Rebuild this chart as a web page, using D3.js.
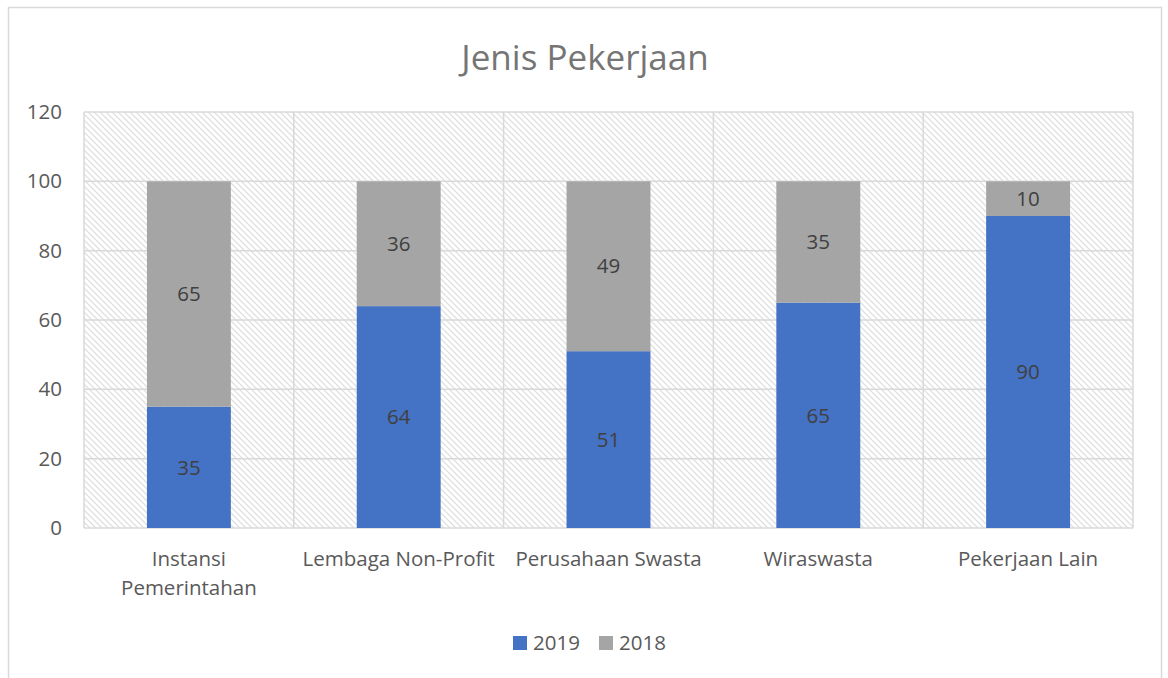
<!DOCTYPE html>
<html>
<head>
<meta charset="utf-8">
<script src="https://cdn.jsdelivr.net/npm/d3@7"></script>
<style>
  html, body { margin: 0; padding: 0; background: #fff; }
  svg { display: block; font-family: "Open Sans", sans-serif; }
</style>
</head>
<body>
<svg id="chart" width="1168" height="678"></svg>
<script>
const categories = [
  ['Instansi', 'Pemerintahan'],
  ['Lembaga Non-Profit'],
  ['Perusahaan Swasta'],
  ['Wiraswasta'],
  ['Pekerjaan Lain']
];
const values2019 = [35, 64, 51, 65, 90];
const values2018 = [65, 36, 49, 35, 10];
const seriesNames = ['2019', '2018'];
const yTicks = [0, 20, 40, 60, 80, 100, 120];

const colors = { '2019': '#4472c4', '2018': '#a5a5a5' };
const fontSize = 20.5;

const svg = d3.select('#chart');
const margin = { left: 84, top: 112, right: 1133, bottom: 528 };

// chart frame
svg.append('rect')
  .attr('x', 8.5).attr('y', 7.5)
  .attr('width', 1153).attr('height', 700)
  .attr('fill', 'none')
  .attr('stroke', '#d9d9d9')
  .attr('stroke-width', 1.5);

// hatch pattern for plot area
const defs = svg.append('defs');
const pattern = defs.append('pattern')
  .attr('id', 'hatch')
  .attr('patternUnits', 'userSpaceOnUse')
  .attr('width', 6).attr('height', 6);
pattern.append('path')
  .attr('d', 'M-1,-1 L7,7 M-7,-1 L1,7 M5,-1 L13,7')
  .attr('stroke', '#e0e0e0')
  .attr('stroke-width', 1.3);

const keys = categories.map((c, i) => i);
const x = d3.scaleBand()
  .domain(keys)
  .range([margin.left, margin.right])
  .paddingInner(0)
  .paddingOuter(0);

const y = d3.scaleLinear()
  .domain([0, 120])
  .range([margin.bottom, margin.top]);

svg.append('rect')
  .attr('x', margin.left).attr('y', margin.top)
  .attr('width', margin.right - margin.left)
  .attr('height', margin.bottom - margin.top)
  .attr('fill', 'url(#hatch)');

// horizontal gridlines
svg.append('g')
  .selectAll('line')
  .data(yTicks)
  .join('line')
  .attr('x1', margin.left).attr('x2', margin.right)
  .attr('y1', d => y(d)).attr('y2', d => y(d))
  .attr('stroke', '#d9d9d9')
  .attr('stroke-width', 1.5);

// vertical category separators
const bounds = keys.map(k => x(k)).concat([margin.right]);
svg.append('g')
  .selectAll('line')
  .data(bounds)
  .join('line')
  .attr('x1', d => d).attr('x2', d => d)
  .attr('y1', margin.top).attr('y2', margin.bottom)
  .attr('stroke', '#d9d9d9')
  .attr('stroke-width', 1.5);

// y axis labels
const yAxis = d3.axisLeft(y).tickValues(yTicks).tickSize(0).tickPadding(0);
const yg = svg.append('g')
  .attr('transform', `translate(${margin.left - 22},0)`)
  .call(yAxis);
yg.select('.domain').remove();
yg.selectAll('text')
  .attr('font-size', fontSize)
  .attr('fill', '#595959')
  .attr('font-family', '"Open Sans", sans-serif');

// stacked bars
const rows = keys.map(i => ({ i, '2019': values2019[i], '2018': values2018[i] }));
const stack = d3.stack().keys(seriesNames)(rows);
const barW = x.bandwidth() * 0.4;

const layers = svg.append('g')
  .selectAll('g')
  .data(stack)
  .join('g')
  .attr('fill', d => colors[d.key]);

layers.selectAll('rect')
  .data(d => d)
  .join('rect')
  .attr('x', d => x(d.data.i) + (x.bandwidth() - barW) / 2)
  .attr('width', barW)
  .attr('y', d => y(d[1]))
  .attr('height', d => y(d[0]) - y(d[1]));

layers.selectAll('text')
  .data(d => d.map(v => ({ v, key: d.key })))
  .join('text')
  .attr('x', d => x(d.v.data.i) + x.bandwidth() / 2)
  .attr('y', d => (y(d.v[0]) + y(d.v[1])) / 2)
  .attr('dy', '0.35em')
  .attr('text-anchor', 'middle')
  .attr('font-size', fontSize)
  .attr('fill', '#404040')
  .text(d => d.v.data[d.key]);

// category labels
const xg = svg.append('g');
categories.forEach((lines, i) => {
  const t = xg.append('text')
    .attr('x', x(i) + x.bandwidth() / 2)
    .attr('y', 566)
    .attr('text-anchor', 'middle')
    .attr('font-size', fontSize)
    .attr('fill', '#595959');
  lines.forEach((ln, j) => {
    t.append('tspan')
      .attr('x', x(i) + x.bandwidth() / 2)
      .attr('dy', j === 0 ? 0 : 29)
      .text(ln);
  });
});

// title
svg.append('text')
  .attr('x', 585)
  .attr('y', 70)
  .attr('text-anchor', 'middle')
  .attr('font-size', 35)
  .attr('fill', '#757575')
  .text('Jenis Pekerjaan');

// legend
const legendItems = [
  { key: '2019', x: 513 },
  { key: '2018', x: 599 }
];
const lg = svg.append('g').selectAll('g')
  .data(legendItems)
  .join('g')
  .attr('transform', d => `translate(${d.x},636)`);
lg.append('rect')
  .attr('width', 14).attr('height', 14)
  .attr('fill', d => colors[d.key]);
lg.append('text')
  .attr('x', 20).attr('y', 7)
  .attr('dy', '0.35em')
  .attr('font-size', fontSize)
  .attr('fill', '#595959')
  .text(d => d.key);
</script>
</body>
</html>
